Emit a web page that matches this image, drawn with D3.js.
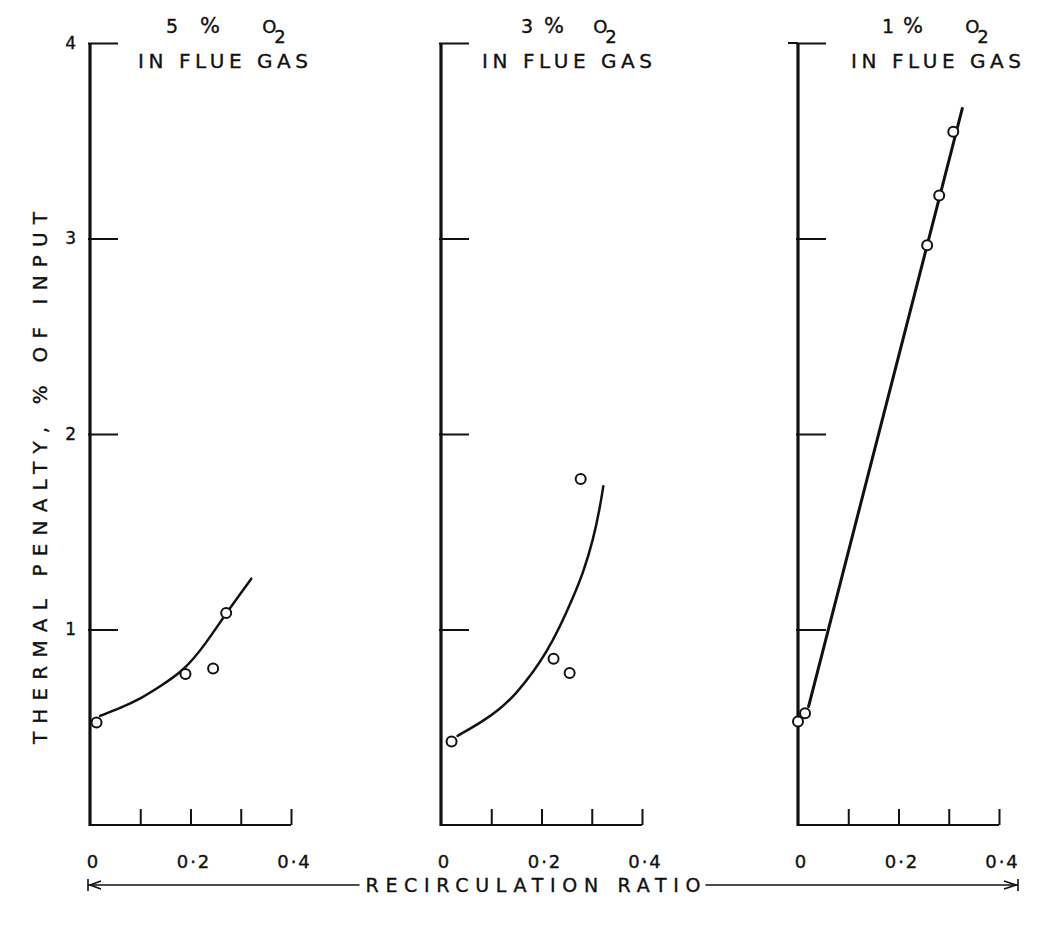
<!DOCTYPE html>
<html>
<head>
<meta charset="utf-8">
<script src="https://cdn.jsdelivr.net/npm/d3@7"></script>
<style>
  html, body { margin: 0; padding: 0; background: #fff; }
  svg { display: block; }
  text { font-family: "DejaVu Sans", "Liberation Sans", sans-serif; fill: #111; stroke: #111; stroke-width: 0.35px; }
</style>
</head>
<body>
<svg id="chart" width="1037" height="948"></svg>
<script>
// ---------- data ----------
const panelO2 = ["5", "3", "1"];
const xTickValues = [0.1, 0.2, 0.3, 0.4];
const xLabelValues = [0, 0.2, 0.4];
const xLabelTexts = ["0", "0·2", "0·4"];
const yTickValues = [1, 2, 3, 4];
const yLabelTexts = ["1", "2", "3", "4"];
const yTitle = "THERMAL PENALTY, % OF INPUT";
const xTitle = "RECIRCULATION RATIO";

// 5 % O2 observations
const obsX5 = [0.013, 0.19, 0.245, 0.271];
const obsY5 = [0.524, 0.772, 0.80, 1.084];
// 5 % O2 fitted curve
const fitX5 = [0.02, 0.06, 0.10, 0.14, 0.187, 0.23, 0.271, 0.321];
const fitY5 = [0.558, 0.598, 0.645, 0.71, 0.79, 0.925, 1.084, 1.26];

// 3 % O2 observations
const obsX3 = [0.021, 0.224, 0.256, 0.278];
const obsY3 = [0.427, 0.85, 0.777, 1.77];
// 3 % O2 fitted curve
const fitX3 = [0.033, 0.083, 0.116, 0.149, 0.183, 0.209, 0.236, 0.263, 0.283, 0.303, 0.316, 0.323];
const fitY3 = [0.456, 0.53, 0.59, 0.67, 0.78, 0.88, 1.01, 1.165, 1.29, 1.46, 1.62, 1.733];

// 1 % O2 observations
const obsX1 = [0.0, 0.014, 0.257, 0.281, 0.309];
const obsY1 = [0.53, 0.572, 2.965, 3.22, 3.546];
// 1 % O2 fitted line
const fitX1 = [0.021, 0.327];
const fitY1 = [0.606, 3.665];

const panelObsX = [obsX5, obsX3, obsX1];
const panelObsY = [obsY5, obsY3, obsY1];
const panelFitX = [fitX5, fitX3, fitX1];
const panelFitY = [fitY5, fitY3, fitY1];

// ---------- layout ----------
const svg = d3.select("#chart");
const axisLeftX = [90, 441, 798];
const xSpan = 201;
const yBottom = 825, yTop = 43;
const y = d3.scaleLinear().domain([0, 4]).range([yBottom, yTop]);
const numPos = [172, 527, 888];
const pctPos = [210, 554, 913];
const oPos = [274, 605, 977];
const flueCenter = [223, 567, 936];
const fitCurves = [d3.curveBasis, d3.curveBasis, d3.curveLinear];
const fitWidths = [2.5, 2.5, 3];

panelO2.forEach((o2, i) => {
  const x0 = axisLeftX[i];
  const x = d3.scaleLinear().domain([0, 0.4]).range([x0, x0 + xSpan]);
  const g = svg.append("g");

  // y tick marks (extend right of axis)
  const yAx = g.append("g").attr("transform", `translate(${x0 - 2},0)`)
    .call(d3.axisRight(y).tickValues(yTickValues).tickSize(30).tickFormat(""));
  yAx.select(".domain").remove();
  yAx.selectAll(".tick line").attr("stroke", "#111").attr("stroke-width", 2);
  if (i === 2) {
    g.append("line").attr("x1", x0 - 10).attr("x2", x0).attr("y1", y(4)).attr("y2", y(4))
      .attr("stroke", "#111").attr("stroke-width", 2);
  }

  // x tick marks (pointing up from baseline)
  const xAx = g.append("g").attr("transform", `translate(0,${yBottom})`)
    .call(d3.axisTop(x).tickValues(xTickValues).tickSize(16).tickFormat(""));
  xAx.select(".domain").remove();
  xAx.selectAll(".tick line").attr("stroke", "#111").attr("stroke-width", 2);

  // baseline + vertical axis
  g.append("line").attr("x1", x0).attr("x2", x(0.4)).attr("y1", yBottom).attr("y2", yBottom)
    .attr("stroke", "#111").attr("stroke-width", 2.2);
  g.append("line").attr("x1", x0).attr("x2", x0).attr("y1", yTop).attr("y2", yBottom + 1)
    .attr("stroke", "#111").attr("stroke-width", 3.2);

  // x tick labels
  const xl = g.append("g").attr("transform", `translate(3,${yBottom})`)
    .call(d3.axisBottom(x).tickValues(xLabelValues).tickSize(0).tickPadding(30)
      .tickFormat((d, k) => xLabelTexts[k]));
  xl.select(".domain").remove();
  xl.selectAll("text").attr("font-size", 18).attr("letter-spacing", 2).attr("fill", "#111")
    .style("font-family", "'DejaVu Sans', sans-serif");

  // y tick labels only on first panel
  if (i === 0) {
    const yl = g.append("g").attr("transform", `translate(${x0},0)`)
      .call(d3.axisLeft(y).tickValues(yTickValues).tickSize(0).tickPadding(14)
        .tickFormat((d, k) => yLabelTexts[k]));
    yl.select(".domain").remove();
    yl.selectAll("text").attr("font-size", 17).attr("fill", "#111")
      .style("font-family", "'DejaVu Sans', sans-serif");
  }

  // fitted curve
  const fitPts = panelFitX[i].map((v, k) => [v, panelFitY[i][k]]);
  g.append("path").datum(fitPts)
    .attr("d", d3.line().x(d => x(d[0])).y(d => y(d[1])).curve(fitCurves[i]))
    .attr("fill", "none").attr("stroke", "#111").attr("stroke-width", fitWidths[i])
    .attr("stroke-linecap", "round");

  // observations
  const obsPts = panelObsX[i].map((v, k) => [v, panelObsY[i][k]]);
  g.selectAll("circle.obs").data(obsPts).join("circle").attr("class", "obs")
    .attr("cx", d => x(d[0])).attr("cy", d => y(d[1])).attr("r", 5)
    .attr("fill", "#fff").attr("stroke", "#111").attr("stroke-width", 2);

  // panel titles
  g.append("text").attr("x", numPos[i]).attr("y", 33).attr("text-anchor", "middle")
    .attr("font-size", 19).text(o2);
  g.append("text").attr("x", pctPos[i]).attr("y", 33).attr("text-anchor", "middle")
    .attr("font-size", 21).text("%");
  const ot = g.append("text").attr("x", oPos[i]).attr("y", 33).attr("text-anchor", "middle")
    .attr("font-size", 18);
  ot.append("tspan").text("O");
  ot.append("tspan").attr("dx", -2).attr("dy", 10).attr("font-size", 18).text("2");
  g.append("text").attr("x", flueCenter[i]).attr("y", 68).attr("text-anchor", "middle")
    .attr("font-size", 20).attr("textLength", 170).attr("lengthAdjust", "spacing")
    .text("IN FLUE GAS");
});

// y-axis title
svg.append("text").attr("transform", "translate(47,478) rotate(-90)")
  .attr("text-anchor", "middle").attr("font-size", 20)
  .attr("textLength", 532).attr("lengthAdjust", "spacing")
  .text(yTitle);

// x-axis title with arrows
const arrowY = 885;
const xt = svg.append("text").attr("x", 533).attr("y", arrowY + 7).attr("text-anchor", "middle")
  .attr("font-size", 19).attr("textLength", 335).attr("lengthAdjust", "spacing").text(xTitle);
const bb = xt.node().getBBox();
const ax = svg.append("g").attr("stroke", "#111").attr("stroke-width", 1.6).attr("fill", "none");
ax.append("line").attr("x1", 88).attr("x2", bb.x - 6).attr("y1", arrowY).attr("y2", arrowY);
ax.append("line").attr("x1", bb.x + bb.width + 5).attr("x2", 1018).attr("y1", arrowY).attr("y2", arrowY);
ax.append("line").attr("x1", 88).attr("x2", 88).attr("y1", arrowY - 6).attr("y2", arrowY + 6);
ax.append("line").attr("x1", 1018).attr("x2", 1018).attr("y1", arrowY - 6).attr("y2", arrowY + 6);
ax.append("path").attr("d", `M101,${arrowY - 4} L90,${arrowY} L101,${arrowY + 4}`);
ax.append("path").attr("d", `M1004,${arrowY - 4} L1016,${arrowY} L1004,${arrowY + 4}`);
</script>
</body>
</html>
